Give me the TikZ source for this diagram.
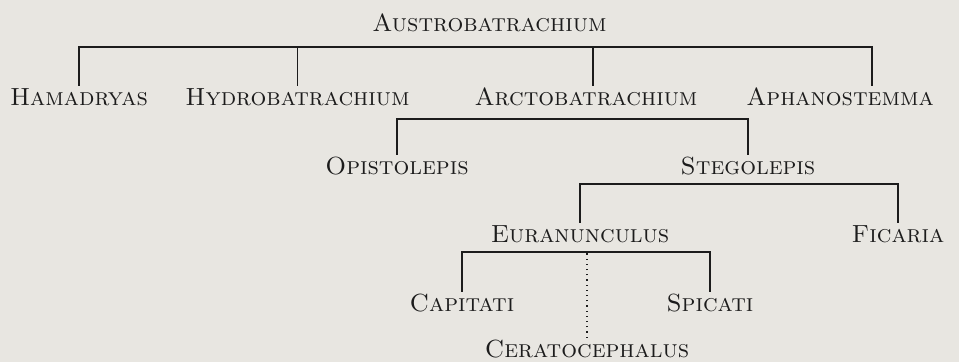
\documentclass[tikz,border=0pt]{standalone}
\usepackage{fontspec}
\usepackage{tikz}
\definecolor{PaperGray}{RGB}{232,230,225}
\definecolor{InkBlack}{RGB}{28,28,28}
\newcommand\taxfont{\fontsize{12.4}{14}\selectfont\addfontfeature{FakeBold=0.6}}

\begin{document}
\begin{tikzpicture}[x=0.5pt,y=-0.5pt,
    taxon/.style={anchor=base,inner xsep=0pt,inner ysep=1.5pt,text height=8.4pt,text depth=0pt,font=\taxfont,text=InkBlack},
    branch/.style={draw=InkBlack,line width=0.7pt},
    doubtful/.style={draw=InkBlack,line width=0.6pt,dotted}]
  \useasboundingbox[fill=PaperGray] (0,0) rectangle (959,362);
  \node[taxon] (austro) at (489.5,32) {\textsc{Austrobatrachium}};
  \node[taxon] (hamadryas) at (79,106) {\textsc{Hamadryas}};
  \node[taxon] (hydro) at (297.5,106) {\textsc{Hydrobatrachium}};
  \node[taxon] (arcto) at (586,106) {\textsc{Arctobatrachium}};
  \node[taxon] (aphano) at (840,106) {\textsc{Aphanostemma}};
  \node[taxon] (opisto) at (397,175) {\textsc{Opistolepis}};
  \node[taxon] (stego) at (748,175) {\textsc{Stegolepis}};
  \node[taxon] (euran) at (580,243) {\textsc{Euranunculus}};
  \node[taxon] (ficaria) at (898,243) {\textsc{Ficaria}};
  \node[taxon] (capitati) at (462,312) {\textsc{Capitati}};
  \node[taxon] (spicati) at (710,312) {\textsc{Spicati}};
  \node[taxon] (cerato) at (587,358) {\textsc{Ceratocephalus}};
  \coordinate (topbar) at (0,47);
  \coordinate (arcbar) at (0,119);
  \coordinate (stebar) at (0,184);
  \coordinate (eurbar) at (0,252);
  \coordinate (aph-in) at ([xshift=16pt]aphano.north);
  \coordinate (arc-in) at ([xshift=3.5pt]arcto.north);
  \draw[branch] (hamadryas.north) |- (aph-in |- topbar) -- (aph-in);
  \foreach \c in {hydro.north,arc-in}
    \draw[branch] (\c |- topbar) -- (\c);
  \draw[branch] (opisto.north) |- (stego.north |- arcbar) -- (stego.north);
  \draw[branch] (euran.north) |- (ficaria.north |- stebar) -- (ficaria.north);
  \draw[branch] (capitati.north) |- (spicati.north |- eurbar) -- (spicati.north);
  \draw[doubtful] (cerato.north) -- (cerato.north |- eurbar);
\end{tikzpicture}
\end{document}
